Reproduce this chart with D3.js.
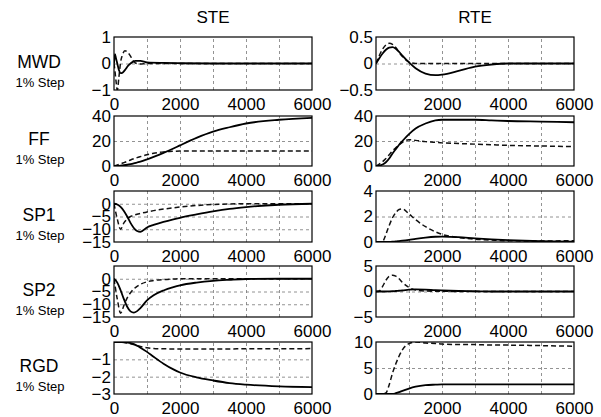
<!DOCTYPE html>
<html>
<head>
<meta charset="utf-8">
<script src="https://cdn.jsdelivr.net/npm/d3@7"></script>
<style>
  body { margin: 0; background: #fff; }
  svg { font-family: "Liberation Sans", Arial, sans-serif; }
  .grid line { stroke: #777; stroke-width: 0.8; stroke-dasharray: 3,3; }
  .grid path { display: none; }
  .lab path, .lab line { display: none; }
  .lab text { font-size: 17px; fill: #000; }
</style>
</head>
<body>
<div id="graph"></div>
<script>
// column / row names
var columnTitles = ["STE", "RTE"];
var rowLabels = ["MWD", "FF", "SP1", "SP2", "RGD"];
var stepLabel = "1% Step";

// time samples (s)
var timeFine = [0, 30, 60, 100, 150, 200, 250, 330, 430, 500, 570, 650, 800, 1000, 1500, 2000, 3000, 4000, 5000, 6000];
var timeMain = [0, 100, 200, 300, 400, 500, 600, 700, 800, 1000, 1200, 1500, 1800, 2000, 2500, 3000, 3500, 4000, 5000, 6000];

// STE column (solid / dashed)
var steMwdSolid  = [0, 0.35, 0.2, 0.0, -0.25, -0.36, -0.35, -0.25, -0.08, 0.0, 0.06, 0.1, 0.1, 0.04, 0.02, 0.01, 0, 0, 0, 0];
var steMwdDashed = [0, -0.3, -0.65, -1.0, -0.5, 0.05, 0.3, 0.48, 0.4, 0.28, 0.12, 0.02, -0.02, 0, 0, 0, 0, 0, 0, 0];
var steFfSolid   = [0, 0.1, 0.3, 0.6, 1.0, 1.5, 2.1, 2.8, 3.5, 5.3, 7.3, 10.5, 14, 16.5, 22.5, 27.5, 31, 34, 37, 38.5];
var steFfDashed  = [0, 0.8, 1.7, 2.7, 3.7, 4.8, 5.8, 6.7, 7.5, 9, 10.2, 11.3, 11.8, 12, 12, 12, 12, 12, 12, 12];
var steSp1Solid  = [0, -0.3, -1.2, -2.8, -5, -7.5, -9.5, -10.7, -11, -9.3, -8.3, -7.1, -6.1, -5.5, -4.2, -3, -2, -1.3, -0.4, 0];
var steSp1Dashed = [0, -6, -10, -7.5, -6, -5, -4.5, -4.1, -3.8, -3.2, -2.7, -2.1, -1.6, -1.3, -0.7, -0.3, -0.1, 0, 0, 0];
var steSp2Solid  = [0, -1.5, -4.5, -8, -11, -12.8, -13.3, -12.7, -11.5, -8.5, -6.5, -4.6, -3.3, -2.6, -1.5, -0.8, -0.4, -0.1, 0, 0];
var steSp2Dashed = [0, -8, -13.5, -10.5, -7.5, -5.5, -4, -3, -2.2, -1.2, -0.7, -0.3, -0.1, 0, 0, 0, 0, 0, 0, 0];
var steRgdSolid  = [0, 0, 0, -0.01, -0.03, -0.06, -0.12, -0.22, -0.33, -0.57, -0.85, -1.25, -1.58, -1.76, -2.04, -2.22, -2.37, -2.46, -2.56, -2.6];
var steRgdDashed = [0, 0, -0.01, -0.03, -0.06, -0.1, -0.15, -0.2, -0.26, -0.33, -0.37, -0.39, -0.4, -0.4, -0.4, -0.4, -0.4, -0.39, -0.39, -0.38];

// RTE column (solid / dashed)
var rteMwdSolid  = [0, 0.1, 0.19, 0.26, 0.3, 0.31, 0.28, 0.22, 0.15, 0.02, -0.09, -0.19, -0.22, -0.21, -0.14, -0.06, -0.02, 0, 0, 0];
var rteMwdDashed = [0, 0.15, 0.27, 0.35, 0.38, 0.36, 0.3, 0.21, 0.13, 0.03, 0, 0, 0, 0, 0, 0, 0, 0, 0, 0];
var rteFfSolid   = [0, 0.3, 1.2, 3, 6, 10, 13.5, 17, 20, 25.5, 30, 34, 36.5, 37, 37, 37, 36.5, 36, 35.5, 35];
var rteFfDashed  = [0, 1.5, 3.5, 6, 9, 12, 14.5, 17, 19, 21, 20.5, 19.5, 19, 18.5, 18, 17.5, 17, 16.5, 16, 15.5];
var rteSp1Solid  = [0, 0, 0, 0, 0.01, 0.02, 0.04, 0.07, 0.1, 0.17, 0.25, 0.35, 0.41, 0.42, 0.38, 0.28, 0.2, 0.14, 0.06, 0.03];
var rteSp1Dashed = [0, 0, 0.05, 0.6, 1.3, 1.9, 2.3, 2.55, 2.6, 2.2, 1.75, 1.2, 0.8, 0.6, 0.35, 0.22, 0.15, 0.1, 0.08, 0.1];
var rteSp2Solid  = [0, 0, 0, 0, 0.02, 0.05, 0.1, 0.15, 0.2, 0.35, 0.4, 0.35, 0.25, 0.2, 0.1, 0.05, 0, 0, 0, 0];
var rteSp2Dashed = [0, 0.1, 1.0, 2.2, 3.0, 3.2, 3.0, 2.5, 1.8, 0.8, 0.3, 0.1, 0.05, 0.05, 0, 0, 0, 0, 0, 0];
var rteRgdSolid  = [0, 0, 0, 0, 0, 0, 0.15, 0.35, 0.6, 1.05, 1.4, 1.7, 1.8, 1.85, 1.85, 1.85, 1.85, 1.85, 1.85, 1.85];
var rteRgdDashed = [0, 0, 0, 0.2, 1.8, 4, 5.8, 7.3, 8.5, 9.7, 10, 9.8, 9.7, 9.6, 9.5, 9.5, 9.4, 9.4, 9.3, 9.2];

// axis limits and tick labels
var steYDomains = [[-1, 1], [0, 40], [-15, 5], [-15, 5], [-3, 0]];
var steYTicks   = [[-1, 0, 1], [0, 20, 40], [0, -5, -10, -15], [0, -5, -10, -15], [-1, -2, -3]];
var rteYDomains = [[-0.5, 0.5], [0, 40], [0, 4], [-5, 5], [0, 10]];
var rteYTicks   = [[-0.5, 0, 0.5], [0, 20, 40], [0, 2, 4], [-5, 0, 5], [0, 5, 10]];
var xGridTicks = [1000, 2000, 3000, 4000, 5000];
var steXTicks = [0, 2000, 4000, 6000];
var rteXTicks = [2000, 4000, 6000];

var panels = [
  [
    {time: timeFine, solid: steMwdSolid, dashed: steMwdDashed},
    {time: timeMain, solid: steFfSolid, dashed: steFfDashed},
    {time: timeMain, solid: steSp1Solid, dashed: steSp1Dashed},
    {time: timeMain, solid: steSp2Solid, dashed: steSp2Dashed},
    {time: timeMain, solid: steRgdSolid, dashed: steRgdDashed}
  ],
  [
    {time: timeMain, solid: rteMwdSolid, dashed: rteMwdDashed},
    {time: timeMain, solid: rteFfSolid, dashed: rteFfDashed},
    {time: timeMain, solid: rteSp1Solid, dashed: rteSp1Dashed},
    {time: timeMain, solid: rteSp2Solid, dashed: rteSp2Dashed},
    {time: timeMain, solid: rteRgdSolid, dashed: rteRgdDashed}
  ]
];

var svgWidth = 601;
var svgHeight = 417;

var colLeft = [114, 376];
var plotW = 198;
var rowTop = [37, 116, 191, 266, 342];
var rowH = [53, 50, 51, 51, 52];

var svg = d3.select("#graph")
  .append("svg")
  .attr("width", svgWidth)
  .attr("height", svgHeight);

// column titles
columnTitles.forEach(function(t, c) {
  svg.append("text")
    .attr("x", colLeft[c] + plotW / 2)
    .attr("y", 23)
    .attr("text-anchor", "middle")
    .style("font-size", "17px")
    .text(t);
});

// row labels
rowLabels.forEach(function(name, r) {
  var mid = rowTop[r] + rowH[r] / 2;
  svg.append("text")
    .attr("x", 39)
    .attr("y", mid + 4)
    .attr("text-anchor", "middle")
    .style("font-size", "17.5px")
    .text(name);
  svg.append("text")
    .attr("x", 40)
    .attr("y", mid + 23)
    .attr("text-anchor", "middle")
    .style("font-size", "13px")
    .text(stepLabel);
});

var xScale = d3.scaleLinear().domain([0, 6000]).range([0, plotW]);

panels.forEach(function(col, c) {
  col.forEach(function(p, r) {
    var h = rowH[r];
    var dom = c == 0 ? steYDomains[r] : rteYDomains[r];
    var ticks = c == 0 ? steYTicks[r] : rteYTicks[r];
    var yScale = d3.scaleLinear().domain(dom).range([h, 0]);

    var g = svg.append("g")
      .attr("transform", `translate(${colLeft[c]}, ${rowTop[r]})`);

    var clipId = "clip" + c + r;
    g.append("clipPath").attr("id", clipId)
      .append("rect").attr("width", plotW).attr("height", h);

    // grid
    g.append("g").attr("class", "grid")
      .attr("transform", `translate(0, ${h})`)
      .call(d3.axisBottom(xScale).tickValues(xGridTicks).tickSize(-h).tickFormat(""));
    var yGrid = ticks.filter(function(v) { return v > dom[0] && v < dom[1]; });
    g.append("g").attr("class", "grid")
      .call(d3.axisLeft(yScale).tickValues(yGrid).tickSize(-plotW).tickFormat(""));

    // tick labels
    g.append("g").attr("class", "lab")
      .call(d3.axisLeft(yScale).tickValues(ticks).tickSize(0).tickPadding(3).tickFormat(d3.format("")));
    g.append("g").attr("class", "lab")
      .attr("transform", `translate(0, ${h})`)
      .call(d3.axisBottom(xScale).tickValues(c == 0 ? steXTicks : rteXTicks).tickSize(0).tickPadding(8).tickFormat(d3.format("")));

    var line = d3.line()
      .x(function(d) { return xScale(d[0]); })
      .y(function(d) { return yScale(d[1]); })
      .curve(d3.curveMonotoneX);

    var plot = g.append("g").attr("clip-path", `url(#${clipId})`);

    plot.append("path")
      .datum(p.time.map(function(t, i) { return [t, p.dashed[i]]; }))
      .attr("d", line)
      .attr("fill", "none")
      .attr("stroke", "#111")
      .attr("stroke-width", 1.5)
      .attr("stroke-dasharray", "5,3");

    plot.append("path")
      .datum(p.time.map(function(t, i) { return [t, p.solid[i]]; }))
      .attr("d", line)
      .attr("fill", "none")
      .attr("stroke", "#000")
      .attr("stroke-width", 1.8);

    // box
    g.append("rect")
      .attr("width", plotW)
      .attr("height", h)
      .attr("fill", "none")
      .attr("stroke", "#000")
      .attr("stroke-width", 1.2);
  });
});
</script>
</body>
</html>
